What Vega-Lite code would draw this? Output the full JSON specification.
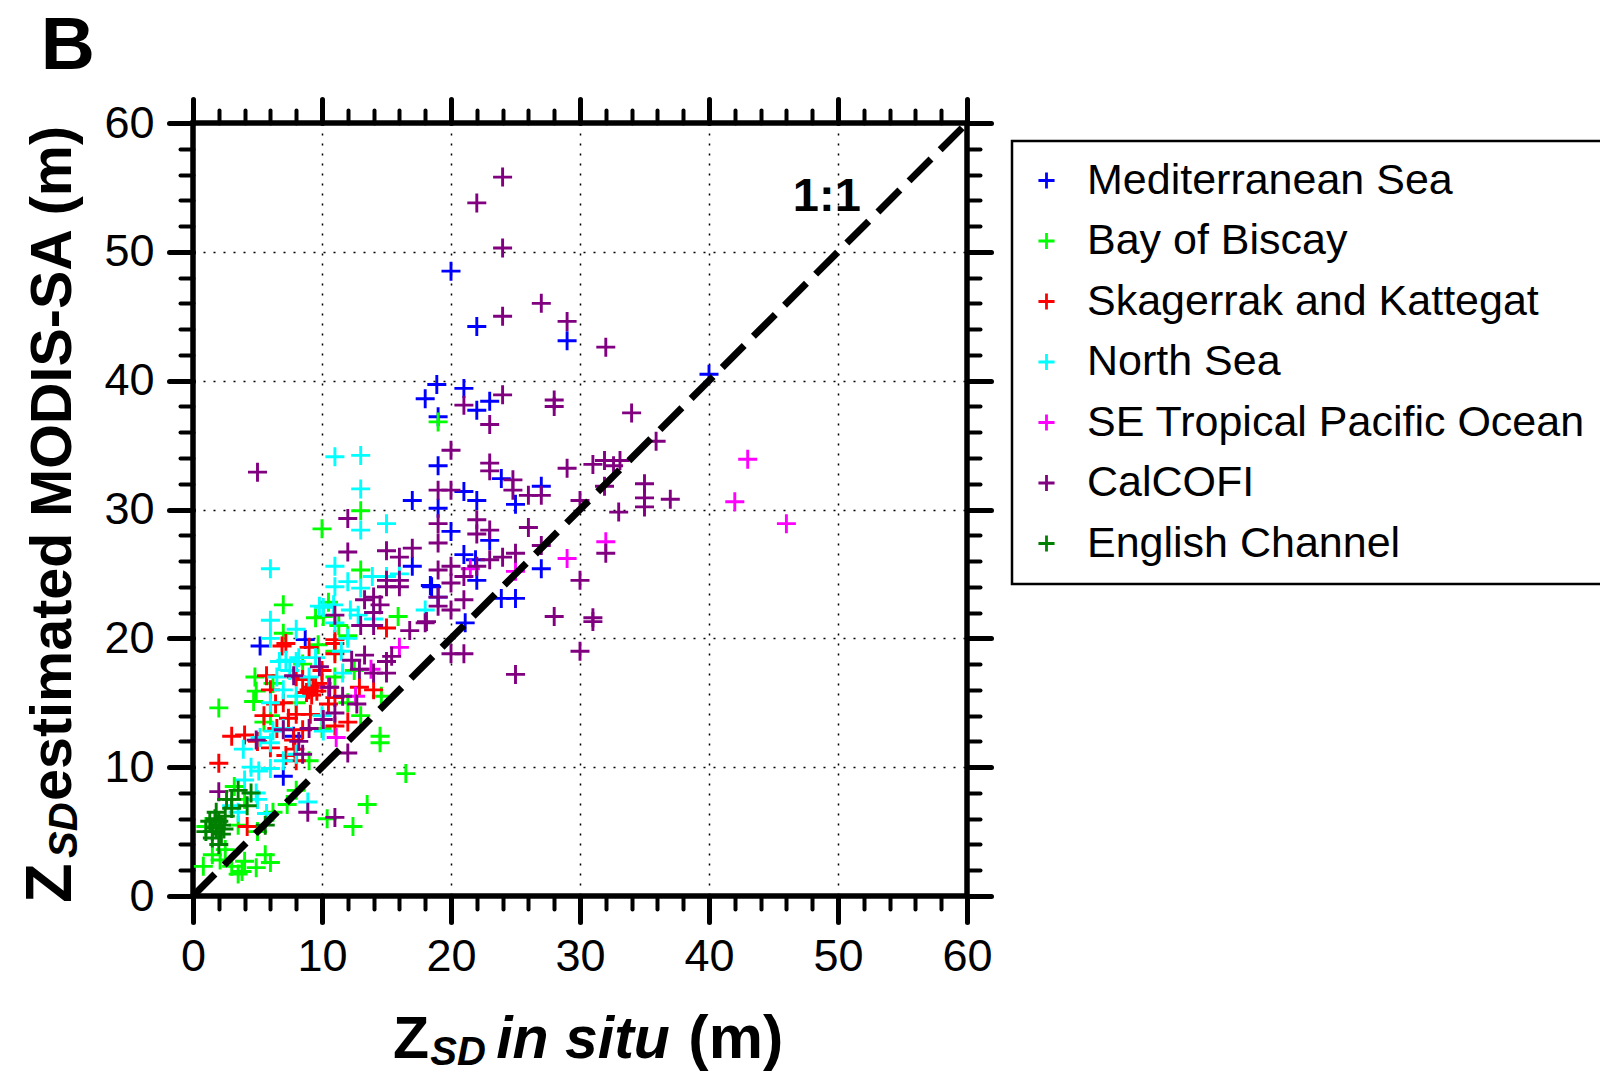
{
  "$schema": "https://vega.github.io/schema/vega-lite/v6.json",
  "width": 774,
  "height": 773,
  "autosize": {"type": "none"},
  "padding": {"left": 193, "top": 123, "right": 633, "bottom": 176},
  "background": "white",
  "config": {
    "view": {"stroke": "black", "strokeWidth": 5.5},
    "font": "Liberation Sans",
    "legend": {"strokeColor": "black", "strokeWidth": 2.5}
  },
  "resolve": {"axis": {"x": "independent", "y": "independent"}},
  "layer": [
    {
      "data": {"values": [
        {"region":"Mediterranean Sea","insitu":20,"modis":48.5},{"region":"Mediterranean Sea","insitu":22,"modis":44.2},{"region":"Mediterranean Sea","insitu":29,"modis":43.1},{"region":"Mediterranean Sea","insitu":40,"modis":40.5},{"region":"Mediterranean Sea","insitu":18.9,"modis":39.7},{"region":"Mediterranean Sea","insitu":21,"modis":39.4},{"region":"Mediterranean Sea","insitu":18,"modis":38.6},{"region":"Mediterranean Sea","insitu":22,"modis":37.7},{"region":"Mediterranean Sea","insitu":23,"modis":38.4},{"region":"Mediterranean Sea","insitu":19,"modis":37.2},{"region":"Mediterranean Sea","insitu":19,"modis":33.4},{"region":"Mediterranean Sea","insitu":23.9,"modis":32.4},{"region":"Mediterranean Sea","insitu":27,"modis":31.8},{"region":"Mediterranean Sea","insitu":17,"modis":30.7},{"region":"Mediterranean Sea","insitu":21,"modis":31.4},{"region":"Mediterranean Sea","insitu":22,"modis":30.7},{"region":"Mediterranean Sea","insitu":19,"modis":30.1},{"region":"Mediterranean Sea","insitu":25,"modis":30.4},{"region":"Mediterranean Sea","insitu":20,"modis":28.3},{"region":"Mediterranean Sea","insitu":23,"modis":27.6},{"region":"Mediterranean Sea","insitu":21,"modis":26.5},{"region":"Mediterranean Sea","insitu":21.9,"modis":26.1},{"region":"Mediterranean Sea","insitu":27,"modis":25.4},{"region":"Mediterranean Sea","insitu":22,"modis":24.5},{"region":"Mediterranean Sea","insitu":17,"modis":25.6},{"region":"Mediterranean Sea","insitu":18.5,"modis":24},{"region":"Mediterranean Sea","insitu":19,"modis":23.2},{"region":"Mediterranean Sea","insitu":23.9,"modis":23.1},{"region":"Mediterranean Sea","insitu":25,"modis":23.1},{"region":"Mediterranean Sea","insitu":21.1,"modis":21.2},{"region":"Mediterranean Sea","insitu":18.4,"modis":24.1},{"region":"Mediterranean Sea","insitu":5.2,"modis":19.4},{"region":"Mediterranean Sea","insitu":8.7,"modis":19.9},{"region":"Mediterranean Sea","insitu":7.8,"modis":12.4},{"region":"Mediterranean Sea","insitu":7,"modis":9.3},

        {"region":"Bay of Biscay","insitu":19,"modis":36.8},{"region":"Bay of Biscay","insitu":13,"modis":29.9},{"region":"Bay of Biscay","insitu":10,"modis":28.5},{"region":"Bay of Biscay","insitu":13,"modis":25.3},{"region":"Bay of Biscay","insitu":7,"modis":22.6},{"region":"Bay of Biscay","insitu":7,"modis":20.4},{"region":"Bay of Biscay","insitu":9.7,"modis":19.5},{"region":"Bay of Biscay","insitu":15.9,"modis":21.7},{"region":"Bay of Biscay","insitu":10.1,"modis":21.7},{"region":"Bay of Biscay","insitu":4.9,"modis":15.9},{"region":"Bay of Biscay","insitu":4.7,"modis":15.1},{"region":"Bay of Biscay","insitu":2,"modis":14.6},{"region":"Bay of Biscay","insitu":4.8,"modis":17},{"region":"Bay of Biscay","insitu":14.5,"modis":11.9},{"region":"Bay of Biscay","insitu":14.5,"modis":12.4},{"region":"Bay of Biscay","insitu":16.5,"modis":9.5},{"region":"Bay of Biscay","insitu":14.6,"modis":15.5},{"region":"Bay of Biscay","insitu":10.4,"modis":6.0},{"region":"Bay of Biscay","insitu":12.4,"modis":5.4},{"region":"Bay of Biscay","insitu":13.5,"modis":7.1},{"region":"Bay of Biscay","insitu":7.3,"modis":7.1},{"region":"Bay of Biscay","insitu":1,"modis":5.4},{"region":"Bay of Biscay","insitu":0.8,"modis":2.3},{"region":"Bay of Biscay","insitu":2.1,"modis":2.8},{"region":"Bay of Biscay","insitu":3.5,"modis":1.7},{"region":"Bay of Biscay","insitu":4.9,"modis":2.2},{"region":"Bay of Biscay","insitu":5.6,"modis":3.2},{"region":"Bay of Biscay","insitu":4,"modis":2.7},{"region":"Bay of Biscay","insitu":3,"modis":2.3},{"region":"Bay of Biscay","insitu":9.5,"modis":21.6},{"region":"Bay of Biscay","insitu":11.3,"modis":21},{"region":"Bay of Biscay","insitu":10.5,"modis":22.8},{"region":"Bay of Biscay","insitu":6,"modis":14},{"region":"Bay of Biscay","insitu":5.5,"modis":13.5},{"region":"Bay of Biscay","insitu":3.2,"modis":8.5},{"region":"Bay of Biscay","insitu":4,"modis":7.5},{"region":"Bay of Biscay","insitu":6.2,"modis":6.5},{"region":"Bay of Biscay","insitu":8,"modis":8.2},{"region":"Bay of Biscay","insitu":11,"modis":19},{"region":"Bay of Biscay","insitu":12,"modis":20.2},{"region":"Bay of Biscay","insitu":12,"modis":15},{"region":"Bay of Biscay","insitu":8,"modis":15},{"region":"Bay of Biscay","insitu":6.2,"modis":16.5},{"region":"Bay of Biscay","insitu":2.5,"modis":3.6},{"region":"Bay of Biscay","insitu":1.5,"modis":3.2},{"region":"Bay of Biscay","insitu":3.8,"modis":1.9},{"region":"Bay of Biscay","insitu":6,"modis":2.6},{"region":"Bay of Biscay","insitu":5,"modis":5},{"region":"Bay of Biscay","insitu":3.5,"modis":5.5},{"region":"Bay of Biscay","insitu":11,"modis":17},{"region":"Bay of Biscay","insitu":9,"modis":10.5},{"region":"Bay of Biscay","insitu":10,"modis":13},{"region":"Bay of Biscay","insitu":13,"modis":14},{"region":"Bay of Biscay","insitu":8.5,"modis":18},{"region":"Bay of Biscay","insitu":12.5,"modis":17.5},

        {"region":"Skagerrak and Kattegat","insitu":2,"modis":10.3},{"region":"Skagerrak and Kattegat","insitu":3,"modis":12.4},{"region":"Skagerrak and Kattegat","insitu":4,"modis":12.5},{"region":"Skagerrak and Kattegat","insitu":5.7,"modis":17.1},{"region":"Skagerrak and Kattegat","insitu":6.9,"modis":19.4},{"region":"Skagerrak and Kattegat","insitu":7.2,"modis":19.6},{"region":"Skagerrak and Kattegat","insitu":6.4,"modis":14.9},{"region":"Skagerrak and Kattegat","insitu":9,"modis":16},{"region":"Skagerrak and Kattegat","insitu":9.3,"modis":16.2},{"region":"Skagerrak and Kattegat","insitu":8.8,"modis":15.8},{"region":"Skagerrak and Kattegat","insitu":9.5,"modis":16.3},{"region":"Skagerrak and Kattegat","insitu":9.2,"modis":15.6},{"region":"Skagerrak and Kattegat","insitu":9.6,"modis":15.9},{"region":"Skagerrak and Kattegat","insitu":7.4,"modis":13.8},{"region":"Skagerrak and Kattegat","insitu":8,"modis":14.1},{"region":"Skagerrak and Kattegat","insitu":8.5,"modis":12.9},{"region":"Skagerrak and Kattegat","insitu":9.1,"modis":14.1},{"region":"Skagerrak and Kattegat","insitu":11,"modis":19.6},{"region":"Skagerrak and Kattegat","insitu":11,"modis":18.8},{"region":"Skagerrak and Kattegat","insitu":11,"modis":19.9},{"region":"Skagerrak and Kattegat","insitu":15,"modis":20.8},{"region":"Skagerrak and Kattegat","insitu":10.5,"modis":14.9},{"region":"Skagerrak and Kattegat","insitu":11,"modis":15.4},{"region":"Skagerrak and Kattegat","insitu":11,"modis":13.2},{"region":"Skagerrak and Kattegat","insitu":12.9,"modis":16.2},{"region":"Skagerrak and Kattegat","insitu":4.2,"modis":5.4},{"region":"Skagerrak and Kattegat","insitu":7.2,"modis":10.9},{"region":"Skagerrak and Kattegat","insitu":7.9,"modis":11.4},{"region":"Skagerrak and Kattegat","insitu":7.8,"modis":12.1},{"region":"Skagerrak and Kattegat","insitu":6,"modis":16},{"region":"Skagerrak and Kattegat","insitu":6.5,"modis":13},{"region":"Skagerrak and Kattegat","insitu":7,"modis":15},{"region":"Skagerrak and Kattegat","insitu":8,"modis":17},{"region":"Skagerrak and Kattegat","insitu":5.5,"modis":14},{"region":"Skagerrak and Kattegat","insitu":10,"modis":17.5},{"region":"Skagerrak and Kattegat","insitu":9,"modis":19.3},{"region":"Skagerrak and Kattegat","insitu":8,"modis":10.5},{"region":"Skagerrak and Kattegat","insitu":12,"modis":13.5},{"region":"Skagerrak and Kattegat","insitu":14,"modis":16},{"region":"Skagerrak and Kattegat","insitu":6,"modis":11.5},{"region":"Skagerrak and Kattegat","insitu":5,"modis":12},{"region":"Skagerrak and Kattegat","insitu":8.5,"modis":16.8},{"region":"Skagerrak and Kattegat","insitu":10,"modis":16.5},

        {"region":"North Sea","insitu":11,"modis":34.1},{"region":"North Sea","insitu":13,"modis":34.2},{"region":"North Sea","insitu":13,"modis":31.6},{"region":"North Sea","insitu":13,"modis":28.4},{"region":"North Sea","insitu":15,"modis":28.9},{"region":"North Sea","insitu":6,"modis":25.4},{"region":"North Sea","insitu":11,"modis":25.6},{"region":"North Sea","insitu":12,"modis":24.4},{"region":"North Sea","insitu":13.9,"modis":24.8},{"region":"North Sea","insitu":11,"modis":24},{"region":"North Sea","insitu":13,"modis":23.9},{"region":"North Sea","insitu":16,"modis":25},{"region":"North Sea","insitu":18,"modis":22.2},{"region":"North Sea","insitu":6,"modis":21.4},{"region":"North Sea","insitu":8,"modis":20.7},{"region":"North Sea","insitu":10.1,"modis":22.4},{"region":"North Sea","insitu":6.7,"modis":18.2},{"region":"North Sea","insitu":8,"modis":18.2},{"region":"North Sea","insitu":7.2,"modis":18.3},{"region":"North Sea","insitu":8.2,"modis":18.5},{"region":"North Sea","insitu":3.9,"modis":11.4},{"region":"North Sea","insitu":5.2,"modis":12.3},{"region":"North Sea","insitu":6,"modis":11.9},{"region":"North Sea","insitu":5.1,"modis":9.7},{"region":"North Sea","insitu":6,"modis":9.9},{"region":"North Sea","insitu":4.9,"modis":8},{"region":"North Sea","insitu":5.7,"modis":6.4},{"region":"North Sea","insitu":8.9,"modis":7.3},{"region":"North Sea","insitu":10.9,"modis":22.6},{"region":"North Sea","insitu":9.8,"modis":22.5},{"region":"North Sea","insitu":12.2,"modis":22.2},{"region":"North Sea","insitu":11,"modis":21.2},{"region":"North Sea","insitu":11.6,"modis":17.3},{"region":"North Sea","insitu":10.1,"modis":12.8},{"region":"North Sea","insitu":14,"modis":22},{"region":"North Sea","insitu":7,"modis":16},{"region":"North Sea","insitu":8,"modis":15.5},{"region":"North Sea","insitu":6,"modis":15},{"region":"North Sea","insitu":9,"modis":17},{"region":"North Sea","insitu":7,"modis":13},{"region":"North Sea","insitu":6.2,"modis":12.8},{"region":"North Sea","insitu":10,"modis":14},{"region":"North Sea","insitu":8,"modis":11},{"region":"North Sea","insitu":4.5,"modis":10},{"region":"North Sea","insitu":3,"modis":7},{"region":"North Sea","insitu":5,"modis":7.5},{"region":"North Sea","insitu":12,"modis":20},{"region":"North Sea","insitu":11.5,"modis":19},{"region":"North Sea","insitu":6.5,"modis":17},{"region":"North Sea","insitu":7.5,"modis":17.5},{"region":"North Sea","insitu":4,"modis":9},{"region":"North Sea","insitu":9.5,"modis":18.5},{"region":"North Sea","insitu":6,"modis":20},{"region":"North Sea","insitu":14,"modis":21.5},{"region":"North Sea","insitu":15,"modis":24.8},{"region":"North Sea","insitu":12.8,"modis":21.8},{"region":"North Sea","insitu":3.5,"modis":6.5},{"region":"North Sea","insitu":7,"modis":10.5},

        {"region":"SE Tropical Pacific Ocean","insitu":43,"modis":33.9},{"region":"SE Tropical Pacific Ocean","insitu":42,"modis":30.6},{"region":"SE Tropical Pacific Ocean","insitu":46,"modis":28.9},{"region":"SE Tropical Pacific Ocean","insitu":32,"modis":27.5},{"region":"SE Tropical Pacific Ocean","insitu":29,"modis":26.2},{"region":"SE Tropical Pacific Ocean","insitu":25,"modis":25.2},{"region":"SE Tropical Pacific Ocean","insitu":21.5,"modis":25.4},{"region":"SE Tropical Pacific Ocean","insitu":16,"modis":19.3},{"region":"SE Tropical Pacific Ocean","insitu":10.5,"modis":16.2},{"region":"SE Tropical Pacific Ocean","insitu":12.6,"modis":15.5},{"region":"SE Tropical Pacific Ocean","insitu":11.1,"modis":12.3},{"region":"SE Tropical Pacific Ocean","insitu":13.8,"modis":17.6},

        {"region":"CalCOFI","insitu":24,"modis":55.8},{"region":"CalCOFI","insitu":22,"modis":53.8},{"region":"CalCOFI","insitu":24,"modis":50.3},{"region":"CalCOFI","insitu":24,"modis":45},{"region":"CalCOFI","insitu":27,"modis":46},{"region":"CalCOFI","insitu":29,"modis":44.6},{"region":"CalCOFI","insitu":32,"modis":42.6},{"region":"CalCOFI","insitu":24,"modis":38.9},{"region":"CalCOFI","insitu":28,"modis":38.5},{"region":"CalCOFI","insitu":28,"modis":38},{"region":"CalCOFI","insitu":21,"modis":38.1},{"region":"CalCOFI","insitu":23,"modis":36.6},{"region":"CalCOFI","insitu":20,"modis":34.6},{"region":"CalCOFI","insitu":5,"modis":32.9},{"region":"CalCOFI","insitu":23,"modis":33.6},{"region":"CalCOFI","insitu":23,"modis":33},{"region":"CalCOFI","insitu":24.8,"modis":32.3},{"region":"CalCOFI","insitu":24.8,"modis":31.5},{"region":"CalCOFI","insitu":27,"modis":31.1},{"region":"CalCOFI","insitu":26,"modis":31.1},{"region":"CalCOFI","insitu":29,"modis":33.2},{"region":"CalCOFI","insitu":31,"modis":33.5},{"region":"CalCOFI","insitu":31.9,"modis":33.8},{"region":"CalCOFI","insitu":32.6,"modis":33.4},{"region":"CalCOFI","insitu":33.1,"modis":33.8},{"region":"CalCOFI","insitu":31.9,"modis":31.8},{"region":"CalCOFI","insitu":35,"modis":32},{"region":"CalCOFI","insitu":35,"modis":30.9},{"region":"CalCOFI","insitu":35,"modis":30.2},{"region":"CalCOFI","insitu":37,"modis":30.8},{"region":"CalCOFI","insitu":33,"modis":29.8},{"region":"CalCOFI","insitu":30,"modis":30.7},{"region":"CalCOFI","insitu":34,"modis":37.5},{"region":"CalCOFI","insitu":35.9,"modis":35.3},{"region":"CalCOFI","insitu":19,"modis":31.5},{"region":"CalCOFI","insitu":20,"modis":31.5},{"region":"CalCOFI","insitu":12,"modis":29.3},{"region":"CalCOFI","insitu":19,"modis":28.9},{"region":"CalCOFI","insitu":22,"modis":29.2},{"region":"CalCOFI","insitu":22,"modis":28.1},{"region":"CalCOFI","insitu":23,"modis":28.4},{"region":"CalCOFI","insitu":26,"modis":28.6},{"region":"CalCOFI","insitu":19,"modis":27.4},{"region":"CalCOFI","insitu":27,"modis":27.2},{"region":"CalCOFI","insitu":12,"modis":26.7},{"region":"CalCOFI","insitu":15,"modis":26.8},{"region":"CalCOFI","insitu":16,"modis":26.3},{"region":"CalCOFI","insitu":17,"modis":27},{"region":"CalCOFI","insitu":24,"modis":26.3},{"region":"CalCOFI","insitu":25,"modis":26.6},{"region":"CalCOFI","insitu":23,"modis":26.1},{"region":"CalCOFI","insitu":30,"modis":24.5},{"region":"CalCOFI","insitu":32,"modis":26.6},{"region":"CalCOFI","insitu":15,"modis":24.5},{"region":"CalCOFI","insitu":16,"modis":24.5},{"region":"CalCOFI","insitu":15,"modis":24},{"region":"CalCOFI","insitu":16,"modis":24},{"region":"CalCOFI","insitu":19,"modis":25.3},{"region":"CalCOFI","insitu":20,"modis":25.6},{"region":"CalCOFI","insitu":21,"modis":24.8},{"region":"CalCOFI","insitu":22,"modis":25.6},{"region":"CalCOFI","insitu":19,"modis":23.2},{"region":"CalCOFI","insitu":20,"modis":24.3},{"region":"CalCOFI","insitu":21,"modis":23},{"region":"CalCOFI","insitu":28,"modis":21.7},{"region":"CalCOFI","insitu":31,"modis":21.6},{"region":"CalCOFI","insitu":31,"modis":21.3},{"region":"CalCOFI","insitu":19,"modis":22.5},{"region":"CalCOFI","insitu":20,"modis":22.2},{"region":"CalCOFI","insitu":18,"modis":21.2},{"region":"CalCOFI","insitu":16.8,"modis":20.6},{"region":"CalCOFI","insitu":14,"modis":23.2},{"region":"CalCOFI","insitu":13.3,"modis":23},{"region":"CalCOFI","insitu":14.5,"modis":22.6},{"region":"CalCOFI","insitu":13,"modis":21},{"region":"CalCOFI","insitu":14,"modis":21},{"region":"CalCOFI","insitu":18.1,"modis":21.3},{"region":"CalCOFI","insitu":21,"modis":18.8},{"region":"CalCOFI","insitu":20,"modis":18.8},{"region":"CalCOFI","insitu":15.4,"modis":18.6},{"region":"CalCOFI","insitu":15,"modis":18.2},{"region":"CalCOFI","insitu":13.3,"modis":18.7},{"region":"CalCOFI","insitu":15,"modis":17.3},{"region":"CalCOFI","insitu":30,"modis":19},{"region":"CalCOFI","insitu":25,"modis":17.2},{"region":"CalCOFI","insitu":7.8,"modis":17.1},{"region":"CalCOFI","insitu":4.9,"modis":12.1},{"region":"CalCOFI","insitu":7,"modis":12.9},{"region":"CalCOFI","insitu":12,"modis":11.1},{"region":"CalCOFI","insitu":2,"modis":8.1},{"region":"CalCOFI","insitu":8.9,"modis":6.5},{"region":"CalCOFI","insitu":11,"modis":6.1},{"region":"CalCOFI","insitu":14,"modis":22},{"region":"CalCOFI","insitu":11,"modis":21.8},{"region":"CalCOFI","insitu":12.3,"modis":18.3},{"region":"CalCOFI","insitu":9.8,"modis":17.8},{"region":"CalCOFI","insitu":12.9,"modis":17.6},{"region":"CalCOFI","insitu":14,"modis":17.3},{"region":"CalCOFI","insitu":10.6,"modis":16.2},{"region":"CalCOFI","insitu":11.6,"modis":15.5},{"region":"CalCOFI","insitu":12.7,"modis":14.9},{"region":"CalCOFI","insitu":10.1,"modis":13.7},{"region":"CalCOFI","insitu":11,"modis":14.2},{"region":"CalCOFI","insitu":9,"modis":13},{"region":"CalCOFI","insitu":8.2,"modis":12},{"region":"CalCOFI","insitu":8.5,"modis":11},

        {"region":"English Channel","insitu":3.5,"modis":8.2},{"region":"English Channel","insitu":2.6,"modis":7.5},{"region":"English Channel","insitu":4.2,"modis":7},{"region":"English Channel","insitu":1.7,"modis":6},{"region":"English Channel","insitu":1.8,"modis":5.3},{"region":"English Channel","insitu":2,"modis":5.8},{"region":"English Channel","insitu":1.5,"modis":5},{"region":"English Channel","insitu":2.2,"modis":4.8},{"region":"English Channel","insitu":1.8,"modis":6.5},{"region":"English Channel","insitu":2.5,"modis":6.2},{"region":"English Channel","insitu":1.5,"modis":4.5},{"region":"English Channel","insitu":5.6,"modis":5.5},{"region":"English Channel","insitu":3,"modis":6.8},{"region":"English Channel","insitu":2.2,"modis":5.5},{"region":"English Channel","insitu":1,"modis":5},{"region":"English Channel","insitu":2,"modis":4},{"region":"English Channel","insitu":4.5,"modis":8},{"region":"English Channel","insitu":3,"modis":7.5},{"region":"English Channel","insitu":1.3,"modis":5.8},{"region":"English Channel","insitu":2.4,"modis":5.2}
      ]},
      "mark": {"type": "point", "shape": "M-1,0L1,0M0,-1L0,1", "size": 361, "strokeWidth": 2.9, "filled": false, "opacity": 1},
      "encoding": {
        "x": {"field": "insitu", "type": "quantitative", "scale": {"domain": [0, 60], "nice": false},
          "axis": {"orient": "bottom", "values": [0, 10, 20, 30, 40, 50, 60], "title": null, "domain": false,
            "tickSize": 26, "tickWidth": 5, "tickColor": "black", "tickCap": "round",
            "labelFontSize": 45, "labelFont": "Liberation Sans", "labelColor": "black", "labelPadding": 12, "labelFlush": false, "labelOverlap": false,
            "grid": true, "gridDash": [2, 8], "gridColor": "black", "gridWidth": 1.5}},
        "y": {"field": "modis", "type": "quantitative", "scale": {"domain": [0, 60], "nice": false},
          "axis": {"orient": "left", "values": [0, 10, 20, 30, 40, 50, 60], "title": null, "domain": false,
            "tickSize": 24, "tickWidth": 5, "tickColor": "black", "tickCap": "round",
            "labelFontSize": 45, "labelFont": "Liberation Sans", "labelColor": "black", "labelPadding": 15, "labelFlush": false, "labelOverlap": false,
            "grid": true, "gridDash": [2, 8], "gridColor": "black", "gridWidth": 1.5}},
        "color": {"field": "region", "type": "nominal",
          "scale": {"domain": ["Mediterranean Sea", "Bay of Biscay", "Skagerrak and Kattegat", "North Sea", "SE Tropical Pacific Ocean", "CalCOFI", "English Channel"],
                    "range": ["#0000FF", "#00FF00", "#FF0000", "#00FFFF", "#FF00FF", "#800080", "#008000"]},
          "legend": {"orient": "none", "legendX": 819, "legendY": 18, "title": null,
            "labelFontSize": 43, "labelFont": "Liberation Sans", "labelColor": "black", "labelLimit": 1000, "labelOffset": 19,
            "symbolType": "M-1,0L1,0M0,-1L0,1", "symbolSize": 260, "symbolStrokeWidth": 2.8, "symbolOffset": -5,
            "fillColor": "white", "padding": 18, "rowPadding": 16.5}}
      }
    },
    {
      "data": {"values": [{}]},
      "mark": {"type": "rule", "color": "black", "strokeWidth": 7, "strokeDash": [31, 13]},
      "encoding": {
        "x": {"datum": 0, "type": "quantitative", "scale": {"domain": [0, 60], "nice": false},
          "axis": {"orient": "top", "values": [0, 10, 20, 30, 40, 50, 60], "title": null, "domain": false, "labels": false, "grid": false,
            "tickSize": 24, "tickWidth": 5, "tickColor": "black", "tickCap": "round"}},
        "y": {"datum": 0, "type": "quantitative", "scale": {"domain": [0, 60], "nice": false},
          "axis": {"orient": "right", "values": [0, 10, 20, 30, 40, 50, 60], "title": null, "domain": false, "labels": false, "grid": false,
            "tickSize": 24, "tickWidth": 5, "tickColor": "black", "tickCap": "round"}},
        "x2": {"datum": 60},
        "y2": {"datum": 60}
      }
    },
    {
      "data": {"values": [{}]},
      "mark": {"type": "text", "text": "1:1", "font": "Liberation Sans", "fontWeight": "bold", "fontSize": 47, "align": "left", "baseline": "alphabetic", "color": "black"},
      "encoding": {
        "x": {"datum": 46.5, "type": "quantitative", "scale": {"domain": [0, 60], "nice": false},
          "axis": {"orient": "bottom", "values": [0, 2, 4, 6, 8, 10, 12, 14, 16, 18, 20, 22, 24, 26, 28, 30, 32, 34, 36, 38, 40, 42, 44, 46, 48, 50, 52, 54, 56, 58, 60], "title": null, "domain": false, "labels": false, "grid": false,
            "tickSize": 13, "tickWidth": 4, "tickColor": "black", "tickCap": "round"}},
        "y": {"datum": 53.2, "type": "quantitative", "scale": {"domain": [0, 60], "nice": false},
          "axis": {"orient": "left", "values": [0, 2, 4, 6, 8, 10, 12, 14, 16, 18, 20, 22, 24, 26, 28, 30, 32, 34, 36, 38, 40, 42, 44, 46, 48, 50, 52, 54, 56, 58, 60], "title": null, "domain": false, "labels": false, "grid": false,
            "tickSize": 13, "tickWidth": 4, "tickColor": "black", "tickCap": "round"}}
      }
    },
    {
      "data": {"values": [{}]},
      "mark": {"type": "text", "text": "B", "font": "Liberation Sans", "fontWeight": "bold", "fontSize": 75, "align": "left", "baseline": "alphabetic", "color": "black"},
      "encoding": {
        "x": {"datum": -11.8, "type": "quantitative", "scale": {"domain": [0, 60], "nice": false},
          "axis": {"orient": "top", "values": [0, 2, 4, 6, 8, 10, 12, 14, 16, 18, 20, 22, 24, 26, 28, 30, 32, 34, 36, 38, 40, 42, 44, 46, 48, 50, 52, 54, 56, 58, 60], "title": null, "domain": false, "labels": false, "grid": false,
            "tickSize": 13, "tickWidth": 4, "tickColor": "black", "tickCap": "round"}},
        "y": {"datum": 64.2, "type": "quantitative", "scale": {"domain": [0, 60], "nice": false},
          "axis": {"orient": "right", "values": [0, 2, 4, 6, 8, 10, 12, 14, 16, 18, 20, 22, 24, 26, 28, 30, 32, 34, 36, 38, 40, 42, 44, 46, 48, 50, 52, 54, 56, 58, 60], "title": null, "domain": false, "labels": false, "grid": false,
            "tickSize": 13, "tickWidth": 4, "tickColor": "black", "tickCap": "round"}}
      }
    },
    {
      "data": {"values": [{}]},
      "mark": {"type": "text", "text": "Z", "font": "Liberation Sans", "fontWeight": "bold", "fontSize": 59, "align": "left", "baseline": "alphabetic", "color": "black"},
      "encoding": {
        "x": {"datum": 15.5, "type": "quantitative", "scale": {"domain": [0, 60], "nice": false}, "axis": null},
        "y": {"datum": -12.57, "type": "quantitative", "scale": {"domain": [0, 60], "nice": false}, "axis": null}
      }
    },
    {
      "data": {"values": [{}]},
      "mark": {"type": "text", "text": "SD", "font": "Liberation Sans", "fontWeight": "bold", "fontStyle": "italic", "fontSize": 40, "align": "left", "baseline": "alphabetic", "color": "black"},
      "encoding": {
        "x": {"datum": 18.4, "type": "quantitative", "scale": {"domain": [0, 60], "nice": false}, "axis": null},
        "y": {"datum": -13.1, "type": "quantitative", "scale": {"domain": [0, 60], "nice": false}, "axis": null}
      }
    },
    {
      "data": {"values": [{}]},
      "mark": {"type": "text", "text": "in situ", "font": "Liberation Sans", "fontWeight": "bold", "fontStyle": "italic", "fontSize": 59, "align": "left", "baseline": "alphabetic", "color": "black"},
      "encoding": {
        "x": {"datum": 23.5, "type": "quantitative", "scale": {"domain": [0, 60], "nice": false}, "axis": null},
        "y": {"datum": -12.57, "type": "quantitative", "scale": {"domain": [0, 60], "nice": false}, "axis": null}
      }
    },
    {
      "data": {"values": [{}]},
      "mark": {"type": "text", "text": "(m)", "font": "Liberation Sans", "fontWeight": "bold", "fontSize": 61, "align": "left", "baseline": "alphabetic", "color": "black"},
      "encoding": {
        "x": {"datum": 38.4, "type": "quantitative", "scale": {"domain": [0, 60], "nice": false}, "axis": null},
        "y": {"datum": -12.57, "type": "quantitative", "scale": {"domain": [0, 60], "nice": false}, "axis": null}
      }
    },
    {
      "data": {"values": [{}]},
      "mark": {"type": "text", "text": "Z", "angle": 270, "font": "Liberation Sans", "fontWeight": "bold", "fontSize": 65, "align": "left", "baseline": "alphabetic", "color": "black"},
      "encoding": {
        "x": {"datum": -9.46, "type": "quantitative", "scale": {"domain": [0, 60], "nice": false}, "axis": null},
        "y": {"datum": -0.54, "type": "quantitative", "scale": {"domain": [0, 60], "nice": false}, "axis": null}
      }
    },
    {
      "data": {"values": [{}]},
      "mark": {"type": "text", "text": "SD", "angle": 270, "font": "Liberation Sans", "fontWeight": "bold", "fontStyle": "italic", "fontSize": 40, "align": "left", "baseline": "alphabetic", "color": "black"},
      "encoding": {
        "x": {"datum": -9.0, "type": "quantitative", "scale": {"domain": [0, 60], "nice": false}, "axis": null},
        "y": {"datum": 2.95, "type": "quantitative", "scale": {"domain": [0, 60], "nice": false}, "axis": null}
      }
    },
    {
      "data": {"values": [{}]},
      "mark": {"type": "text", "text": "estimated MODIS-SA (m)", "angle": 270, "font": "Liberation Sans", "fontWeight": "bold", "fontSize": 57.5, "align": "left", "baseline": "alphabetic", "color": "black"},
      "encoding": {
        "x": {"datum": -9.46, "type": "quantitative", "scale": {"domain": [0, 60], "nice": false}, "axis": null},
        "y": {"datum": 7.37, "type": "quantitative", "scale": {"domain": [0, 60], "nice": false}, "axis": null}
      }
    }
  ]
}
